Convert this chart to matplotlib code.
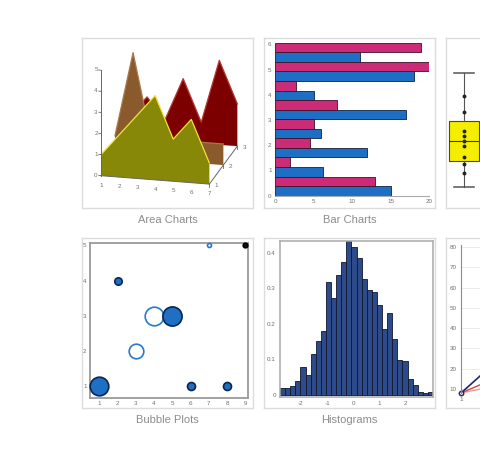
import numpy as np
import matplotlib
matplotlib.use('Agg')
import matplotlib.pyplot as plt
from matplotlib.transforms import Affine2D

W, H = 480, 466
plt.rcParams['font.family'] = ['Liberation Sans', 'DejaVu Sans']
plt.rcParams['axes.unicode_minus'] = False

# area chart (3 series, one behind the other)
area_x = [1, 2, 3, 4, 5, 6, 7]
area_front = [1, 2, 3, 4, 2, 3, 1]
area_middle = [1, 5, 1, 1, 1, 1, 1]
area_back = [1, 2, 1, 3, 1, 4, 2]
area_depth_labels = ['1', '2', '3']

# bar chart
bar_blue = [15, 6.2, 12, 6, 17, 5, 18, 11]
bar_pink = [13, 2, 4.5, 5, 8, 2.7, 20, 19]
bar_yticks = [0, 1, 2, 3, 4, 5, 6]
bar_xticks = [0, 5, 10, 15, 20]

# box plot
box_values = [0, 1.2, 2.0, 2.6, 3.6, 4.0, 4.5, 4.9, 6.6, 8.0, 10]

# bubble plot
bubble_x = [1, 2, 3, 4, 5, 6, 7, 8, 9]
bubble_y = [1, 4, 2, 3, 3, 1, 5, 1, 5]
bubble_r = [9.3, 3.7, 7.3, 9.3, 9.6, 4.0, 2.0, 4.0, 2.3]
bubble_kind = ['fill', 'fill', 'open', 'open', 'fill', 'fill', 'open', 'fill', 'dark']

# histogram (density per bin)
hist_heights = [0.019, 0.019, 0.025, 0.040, 0.078, 0.056, 0.115, 0.152, 0.179, 0.317,
                0.273, 0.337, 0.375, 0.435, 0.417, 0.386, 0.328, 0.296, 0.290, 0.254,
                0.186, 0.231, 0.158, 0.099, 0.094, 0.045, 0.028, 0.009, 0.005, 0.009]
hist_lo, hist_hi = -2.8, 3.04
hist_xticks = [-2, -1, 0, 1, 2]
hist_yticks = [0, 0.1, 0.2, 0.3, 0.4]
hist_ylabels = ['0', '0.1', '0.2', '0.3', '0.4']

# line chart (only its left edge is in view)
line_x = [1, 2, 3, 4, 5, 6, 7]
line_navy = [8, 19, 27, 36, 47, 58, 66]
line_red = [8, 13.3, 17, 22, 25, 31, 36]
line_pink = [8, 10.5, 13, 12, 16, 19, 21]
line_yticks = [10, 20, 30, 40, 50, 60, 70, 80]

captions = ['Area Charts', 'Bar Charts', 'Box Plots',
            'Bubble Plots', 'Histograms', 'Line Charts']

TICK = dict(fontsize=4.5, color='#707070')

fig = plt.figure(figsize=(W / 100, H / 100), dpi=100)
fig.patch.set_facecolor('white')


def px_axes(x0, y0, x1, y1):
    return fig.add_axes([x0 / W, 1 - y1 / H, (x1 - x0) / W, (y1 - y0) / H])


# panel frames and captions
frames = [(82, 38), (264, 38), (446, 38), (82, 238), (264, 238), (446, 238)]
for (fx, fy), cap in zip(frames, captions):
    fa = px_axes(fx, fy, fx + 171, fy + 170)
    fa.set_xticks([])
    fa.set_yticks([])
    for s in fa.spines.values():
        s.set_color('#dcdcdc')
        s.set_linewidth(1)
    if fx + 85.5 < W:
        fig.text((fx + 85.5) / W, 1 - (fy + 182) / H, cap, ha='center', va='center',
                 color='#8c8c8c', fontsize=8)

# ---- area chart, oblique projection drawn in pixel space
ax1 = px_axes(82, 38, 253, 208)
ax1.set_xlim(82, 253)
ax1.set_ylim(208, 38)
ax1.axis('off')
ax1.patch.set_alpha(0)

O = (101.0, 175.7)
EX = (18.06, 1.4)
EZ = (0.0, -21.1)
ED = (14.0, -19.0)


def plane_xz(d):
    m = np.array([[EX[0], EZ[0], O[0] - EX[0] + ED[0] * d],
                  [EX[1], EZ[1], O[1] - EX[1] + ED[1] * d],
                  [0, 0, 1]])
    return Affine2D(m) + ax1.transData


def plane_dz(x):
    m = np.array([[ED[0], EZ[0], O[0] + EX[0] * (x - 1)],
                  [ED[1], EZ[1], O[1] + EX[1] * (x - 1)],
                  [0, 0, 1]])
    return Affine2D(m) + ax1.transData


axis_c = '#666666'
ax1.plot([1, 7], [0, 0], color='#bbbbbb', lw=0.5, transform=plane_xz(2), zorder=0.5)
ax1.plot([0, 2], [0, 0], color='#bbbbbb', lw=0.5, transform=plane_dz(1), zorder=0.5)

series = [(2, area_back, '#7c0000', '#b03a30'),
          (1, area_middle, '#8a5a2c', '#a8784a'),
          (0, area_front, '#878708', '#f0e43a')]
for i, (d, vals, face, edge) in enumerate(series):
    T = plane_xz(d)
    xs = [area_x[0]] + list(area_x) + [area_x[-1]]
    zs = [0] + list(vals) + [0]
    ax1.fill(xs, zs, facecolor=face, edgecolor='none', transform=T, zorder=1 + i)
    ax1.plot(area_x, vals, color=edge, lw=0.9, transform=T, zorder=1.5 + i)

ax1.plot([1, 7], [0, 0], color=axis_c, lw=0.7, transform=plane_xz(0), zorder=5)
ax1.plot([0, 2], [0, 0], color=axis_c, lw=0.7, transform=plane_dz(7), zorder=5)
ax1.plot([1, 1], [0, 5], color=axis_c, lw=0.7, transform=plane_xz(0), zorder=5)
for x in area_x:
    ax1.text(x, -0.45, str(x), ha='center', va='center', transform=plane_xz(0), **TICK)
for z in range(6):
    ax1.plot([0.88, 1], [z, z], color=axis_c, lw=0.6, transform=plane_xz(0), zorder=5)
    ax1.text(0.72, z, str(z), ha='center', va='center', transform=plane_xz(0), **TICK)
for d, lab in enumerate(area_depth_labels):
    ax1.plot([d, d], [0, -0.12], color=axis_c, lw=0.6, transform=plane_dz(7), zorder=5)
    ax1.text(d, -0.05, lab, ha='center', va='center', transform=plane_dz(7.4), **TICK)

# ---- bar chart
ax2 = px_axes(275, 42.7, 429, 195.7)
pos = np.arange(len(bar_blue)) * 0.7585
ax2.barh(pos + 0.19, bar_blue, height=0.379, color='#1d6fc6', edgecolor='#14213d', lw=0.6)
ax2.barh(pos + 0.569, bar_pink, height=0.379, color='#cc2b78', edgecolor='#3a1428', lw=0.6)
ax2.set_xlim(0, 20)
ax2.set_ylim(0, 6.07)
ax2.set_xticks(bar_xticks)
ax2.set_yticks(bar_yticks)
ax2.tick_params(length=0, labelsize=4.5, labelcolor='#707070', pad=2.5)
for s in ['top', 'right', 'left']:
    ax2.spines[s].set_visible(False)
ax2.spines['bottom'].set_color('#aaaaaa')
ax2.patch.set_alpha(0)

# ---- box plot
ax3 = px_axes(446, 73 - 3.42, 482, 187 + 3.42)
ax3.boxplot(box_values, positions=[1], widths=0.86, whis=(0, 100), patch_artist=True,
            showfliers=False, capwidths=0.53,
            boxprops=dict(facecolor='#f6ee00', edgecolor='#444444', lw=0.8),
            medianprops=dict(color='#333333', lw=0.8),
            whiskerprops=dict(color='#555555', lw=0.8),
            capprops=dict(color='#555555', lw=1.1))
inner = [v for v in box_values if min(box_values) < v < max(box_values)]
ax3.plot([1] * len(inner), inner, 'o', ms=1.8, color='#222222')
ax3.set_xlim(0.5, 1.5)
ax3.set_ylim(-0.3, 10.3)
ax3.axis('off')

# ---- bubble plot
ax4 = px_axes(90, 243, 248, 398)
bubble_style = {'fill': ('#1f6fc5', '#0b2550'),
                'open': ('white', '#2a78c8'),
                'dark': ('#151515', '#000000')}
for x, y, r, k in zip(bubble_x, bubble_y, bubble_r, bubble_kind):
    fc, ec = bubble_style[k]
    ax4.scatter([x], [y], s=(2 * r * 0.72) ** 2, facecolor=fc, edgecolor=ec,
                linewidth=1.2, zorder=3, clip_on=False)
ax4.set_xlim(0.49, 9.15)
ax4.set_ylim(0.67, 5.07)
ax4.set_xticks(bubble_x)
ax4.set_yticks([1, 2, 3, 4, 5])
ax4.tick_params(length=0, labelsize=4.5, labelcolor='#707070', pad=2.5)
for s in ax4.spines.values():
    s.set_color('#9a9a9a')
    s.set_linewidth(1.3)

# ---- histogram
ax5 = px_axes(280, 241, 433, 397)
edges = np.linspace(hist_lo, hist_hi, len(hist_heights) + 1)
ax5.bar(edges[:-1], hist_heights, width=np.diff(edges), align='edge',
        color='#2d4b8a', edgecolor='#10182c', lw=0.6)
ax5.set_xlim(hist_lo, hist_hi)
ax5.set_ylim(-0.0065, 0.434)
ax5.set_xticks(hist_xticks)
ax5.set_yticks(hist_yticks)
ax5.set_yticklabels(hist_ylabels)
ax5.tick_params(length=0, labelsize=4.5, labelcolor='#707070', pad=3)
for s in ax5.spines.values():
    s.set_color('#aaaaaa')
    s.set_linewidth(1.1)

# ---- line chart: only the slice inside the picture (x 1 .. ~1.76)
ax6 = px_axes(461, 245, 480, 393)
ax6.plot(line_x, line_pink, color='#f09a9a', lw=1, marker='o', ms=3, mfc='white')
ax6.plot(line_x, line_red, color='#d0443a', lw=1, marker='o', ms=3, mfc='white')
ax6.plot(line_x, line_navy, color='#1c2a6e', lw=1.2, marker='o', ms=3, mfc='white')
for ln in ax6.lines:
    ln.set_clip_on(False)
ax6.set_xlim(1, 1.76)
ax6.set_ylim(8, 81)
ax6.set_xticks([x for x in line_x if x < 1.76])
ax6.set_yticks(line_yticks)
ax6.grid(color='#e8e8e8', lw=0.6)
ax6.set_axisbelow(True)
ax6.tick_params(length=0, labelsize=4.5, labelcolor='#707070', pad=3)
for s in ['top', 'right', 'bottom']:
    ax6.spines[s].set_visible(False)
ax6.spines['left'].set_color('#8a8a8a')

fig.savefig('out.png', dpi=100, facecolor='white')
